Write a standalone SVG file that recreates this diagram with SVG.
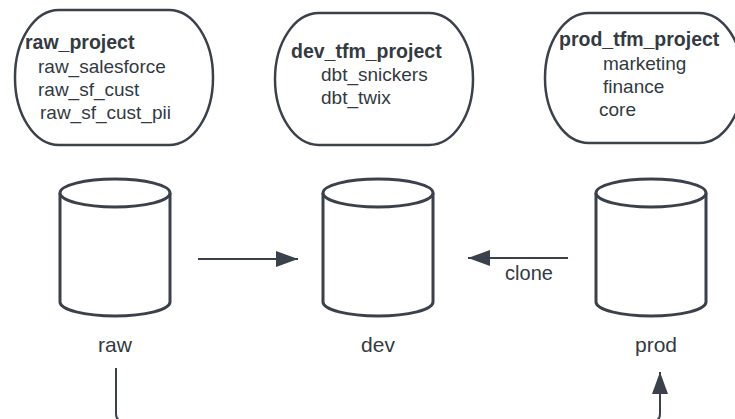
<svg xmlns="http://www.w3.org/2000/svg" width="735" height="419" viewBox="0 0 735 419">
<style>
.box{fill:#fff;stroke:#3a414a;stroke-width:2.5}
.cyl{fill:#fff;stroke:#3a414a;stroke-width:3}
.t{font-family:"Liberation Sans",Arial,sans-serif;font-size:19px;fill:#333a42}
.b{font-weight:bold;font-size:19.5px}
.lbl{font-family:"Liberation Sans",Arial,sans-serif;font-size:21px;fill:#333a42;text-anchor:middle}
.conn{fill:none;stroke:#3a414a;stroke-width:2}
</style>
<defs>
<marker id="ah" viewBox="0 0 22 16" refX="22" refY="8" markerWidth="22" markerHeight="16" markerUnits="userSpaceOnUse" orient="auto">
<path d="M0 0 L22 8 L0 16 Z" fill="#3a414a"/>
</marker>
</defs>
<g id="raw_project">
<rect class="box" x="15" y="10" width="198" height="135" rx="44" ry="67"/>
<text class="t b" x="25" y="49">raw_project</text>
<text class="t" x="38" y="73">raw_salesforce</text>
<text class="t" x="38" y="96">raw_sf_cust</text>
<text class="t" x="40" y="119">raw_sf_cust_pii</text>
</g>
<g id="dev_tfm_project">
<rect class="box" x="275" y="13" width="198" height="132" rx="44" ry="66"/>
<text class="t b" x="291" y="58">dev_tfm_project</text>
<text class="t" x="321" y="81">dbt_snickers</text>
<text class="t" x="321" y="104">dbt_twix</text>
</g>
<g id="prod_tfm_project">
<rect class="box" x="545" y="13" width="198" height="130" rx="44" ry="65"/>
<text class="t b" x="559" y="46">prod_tfm_project</text>
<text class="t" x="603" y="70">marketing</text>
<text class="t" x="603" y="93">finance</text>
<text class="t" x="599" y="116">core</text>
</g>
<g id="raw">
<path class="cyl" d="M60 193 V302 A55 14 0 0 0 170 302 V193 A55 14 0 0 0 60 193 Z"/>
<path class="cyl" d="M60 193 A55 14 0 0 0 170 193" fill="none"/>
<text class="lbl" x="115" y="352">raw</text>
</g>
<g id="dev">
<path class="cyl" d="M323 193 V302 A55 14 0 0 0 433 302 V193 A55 14 0 0 0 323 193 Z"/>
<path class="cyl" d="M323 193 A55 14 0 0 0 433 193" fill="none"/>
<text class="lbl" x="378" y="352">dev</text>
</g>
<g id="prod">
<path class="cyl" d="M596 193 V302 A55 14 0 0 0 706 302 V193 A55 14 0 0 0 596 193 Z"/>
<path class="cyl" d="M596 193 A55 14 0 0 0 706 193" fill="none"/>
<text class="lbl" x="656" y="352">prod</text>
</g>
<g id="connectors">
<line class="conn" x1="198" y1="259" x2="298" y2="259" marker-end="url(#ah)"/>
<line class="conn" x1="568" y1="258" x2="468" y2="258" marker-end="url(#ah)"/>
<text class="lbl" x="529" y="280" style="font-size:20px">clone</text>
<path class="conn" d="M116 368 V414 Q116 421 123 421 H653 Q660 421 660 414 V372" marker-end="url(#ah)"/>
</g>
</svg>
